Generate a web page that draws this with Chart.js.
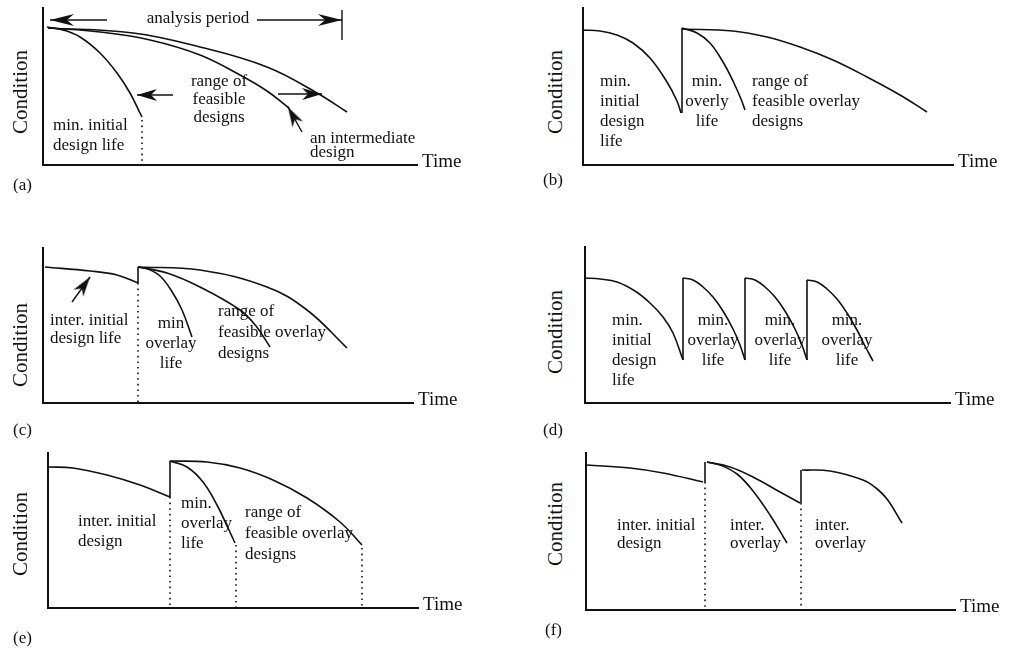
<!DOCTYPE html>
<html>
<head>
<meta charset="utf-8">
<script src="https://cdn.jsdelivr.net/npm/chart.js@4.4.1/dist/chart.umd.min.js"></script>
<style>
  html, body { margin: 0; padding: 0; background: #fff; }
  #fig { position: relative; width: 1009px; height: 653px; overflow: hidden;
         font-family: "Liberation Serif", "DejaVu Serif", serif; color: #111; }
  #fig canvas { position: absolute; }
  .t { position: absolute; white-space: pre; font-size: 17px; }
  .t.c { text-align: center; transform: translateX(-50%); }
  .cond { position: absolute; font-size: 21px; white-space: nowrap; line-height: 1;
          transform: translate(-50%, -50%) rotate(-90deg); }
  .time { font-size: 19px; }
</style>
</head>
<body>
<div id="fig"></div>
<script>
// === Valores: [tempo, condição] em unidades de cada painel ===
// (a)
const a_minInicial = [[4,138],[20,135],[37,128],[57,112],[74,92],[87,72],[97,52],[99,48]];
const a_intermed   = [[5,137],[57,133],[107,125],[157,110],[197,90],[224,74],[246,57]];
const a_maximo     = [[5,137],[90,132],[157,118],[224,98],[274,72],[304,53]];
const a_periodo    = [[64,145],[7,145],[214,145],[299,145]];
const a_faixa      = [[130,70],[94,70],[235,71],[279,71]];
const a_setaInter  = [[259,33],[245,58]];
// (b)
const b_minInicial = [[0,135],[17,134],[34,130],[50,122],[67,107],[84,83],[94,64],[98,52]];
const b_minOverlay = [[99,137],[114,132],[127,122],[140,103],[150,84],[158,66],[162,55]];
const b_faixa      = [[99,136],[150,134],[184,128],[217,118],[250,105],[284,88],[317,70],[344,53]];
// (c)
const c_inicial    = [[2,136],[47,132],[74,128],[95,120]];
const c_minOverlay = [[95,136],[105,134],[117,127],[128,113],[139,93],[149,66]];
const c_medio      = [[95,136],[124,130],[157,116],[197,93],[213,77],[227,56]];
const c_maximo     = [[95,136],[157,133],[224,116],[264,93],[304,55]];
const c_seta       = [[29,101],[47,126]];
// (d)
const d_inicial    = [[0,125],[15,124],[32,121],[50,112],[65,100],[78,86],[88,70],[98,43]];
const d_overlay1   = [[98,125],[108,123],[118,116],[128,106],[138,92],[148,74],[155,58],[160,43]];
const d_overlay2   = [[160,125],[170,123],[180,116],[190,106],[200,92],[210,74],[217,58],[222,43]];
const d_overlay3   = [[222,123],[232,121],[242,114],[252,104],[262,90],[272,73],[280,57],[288,42]];
// (e)
const e_inicial    = [[0,141],[25,140],[59,133],[92,123],[122,111]];
const e_minOverlay = [[122,147],[139,141],[155,126],[169,103],[180,80],[187,65]];
const e_faixa      = [[122,147],[159,146],[192,140],[225,128],[259,110],[292,86],[314,63]];
// (f)
const f_inicial    = [[1,145],[44,142],[77,137],[117,128]];
const f_overlay1   = [[121,148],[134,145],[151,136],[167,119],[184,95],[201,67]];
const f_overlay2   = [[121,148],[144,143],[167,133],[194,118],[214,107]];
const f_overlay3   = [[216,140],[244,139],[277,130],[290,122],[301,111],[316,87]];

const fig = document.getElementById("fig");
const COR = "#111";

// ponta de seta (desenhada apontando para a direita, ponta no centro do canvas)
function ponta(len, larg) {
  const c = document.createElement("canvas");
  c.width = len * 2; c.height = larg;
  const g = c.getContext("2d");
  g.fillStyle = COR;
  g.beginPath();
  g.moveTo(len, larg / 2);
  g.lineTo(0, 0);
  g.lineTo(len * 0.3, larg / 2);
  g.lineTo(0, larg);
  g.closePath();
  g.fill();
  return c;
}
const pontaGrande = ponta(24, 12);
const pontaMedia = ponta(20, 12);

const xy = pts => pts.map(p => ({ x: p[0], y: p[1] }));

function curva(pts) {
  return { data: xy(pts), borderColor: COR, borderWidth: 1.6, pointRadius: 0,
           tension: 0.4, clip: false };
}
function reta(pts, w) {
  return { data: xy(pts), borderColor: COR, borderWidth: w || 1.6, pointRadius: 0, tension: 0, clip: false };
}
function pontilhado(x, topo) {
  return { data: xy([[x, topo], [x, 0]]), borderColor: COR, borderWidth: 1.6, borderDash: [1.6, 4],
           pointRadius: 0, tension: 0, clip: false };
}
function seta(cauda, bico, cabeca) {
  // escalas 1:1 em pixels, então o ângulo sai direto dos dados
  const ang = Math.atan2(-(bico[1] - cauda[1]), bico[0] - cauda[0]) * 180 / Math.PI;
  return { data: xy([cauda, bico]), borderColor: COR, borderWidth: 1.4, tension: 0, clip: false,
           pointRadius: [0, 6], pointStyle: cabeca, pointRotation: ang };
}

function criaPainel(geo, series) {
  const w = geo.rx - geo.ox, h = geo.oy - geo.ty, pad = 12;
  const cv = document.createElement("canvas");
  cv.width = w + 2 * pad; cv.height = h + 2 * pad;
  cv.style.left = (geo.ox - pad) + "px";
  cv.style.top = (geo.ty - pad) + "px";
  cv.style.width = cv.width + "px";
  cv.style.height = cv.height + "px";
  fig.appendChild(cv);
  const eixo = max => ({
    type: "linear", min: 0, max: max,
    ticks: { display: false },
    grid: { display: false, drawTicks: false },
    border: { display: true, color: COR, width: 2 }
  });
  new Chart(cv.getContext("2d"), {
    type: "line",
    data: { datasets: series },
    options: {
      responsive: false, animation: false, events: [],
      layout: { padding: pad },
      plugins: { legend: { display: false }, tooltip: { enabled: false } },
      scales: { x: eixo(w), y: eixo(h) }
    }
  });
  // rótulos dos eixos e letra do painel
  const cond = document.createElement("div");
  cond.className = "cond";
  cond.textContent = "Condition";
  cond.style.left = geo.condX + "px";
  cond.style.top = geo.condY + "px";
  fig.appendChild(cond);
  texto("Time", geo.rx + 5, geo.oy - 2, 20, false, "time");
  texto(geo.letra, geo.letraX, geo.letraY, 20, false);
}

function texto(str, x, y, lh, centro, extra) {
  const d = document.createElement("div");
  d.className = "t" + (centro ? " c" : "") + (extra ? " " + extra : "");
  d.textContent = str;
  d.style.left = x + "px";
  d.style.top = (y - lh / 2 - 2) + "px";
  d.style.lineHeight = lh + "px";
  fig.appendChild(d);
}

// === (a) ===
criaPainel({ ox: 43, oy: 165, rx: 417, ty: 8, condX: 20, condY: 92, letra: "(a)", letraX: 13, letraY: 187 }, [
  curva(a_minInicial), curva(a_intermed), curva(a_maximo),
  pontilhado(99, 45),
  seta(a_periodo[0], a_periodo[1], pontaGrande),
  seta(a_periodo[2], a_periodo[3], pontaGrande),
  reta([[299, 125], [299, 155]], 1.4),
  seta(a_faixa[0], a_faixa[1], pontaMedia),
  seta(a_faixa[2], a_faixa[3], pontaMedia),
  seta(a_setaInter[0], a_setaInter[1], pontaMedia)
]);
texto("analysis period", 198, 20, 20, true);
texto("range of\nfeasible\ndesigns", 219, 83, 18, true);
texto("min. initial\ndesign life", 53, 127, 20, false);
texto("an intermediate\ndesign", 310, 140, 14, false);

// === (b) ===
criaPainel({ ox: 583, oy: 165, rx: 953, ty: 8, condX: 555, condY: 92, letra: "(b)", letraX: 543, letraY: 182 }, [
  curva(b_minInicial), reta([[99, 52], [99, 137]]),
  curva(b_minOverlay), curva(b_faixa)
]);
texto("min.\ninitial\ndesign\nlife", 600, 83, 20, false);
texto("min.\noverly\nlife", 707, 83, 20, true);
texto("range of\nfeasible overlay\ndesigns", 752, 83, 20, false);

// === (c) ===
criaPainel({ ox: 43, oy: 403, rx: 413, ty: 248, condX: 20, condY: 345, letra: "(c)", letraX: 13, letraY: 432 }, [
  curva(c_inicial), reta([[95, 120], [95, 136]]),
  curva(c_minOverlay), curva(c_medio), curva(c_maximo),
  pontilhado(95, 120),
  seta(c_seta[0], c_seta[1], pontaMedia)
]);
texto("inter. initial\ndesign life", 50, 322, 18, false);
texto("min\noverlay\nlife", 171, 325, 20, true);
texto("range of\nfeasible overlay\ndesigns", 218, 312, 21, false);

// === (d) ===
criaPainel({ ox: 585, oy: 403, rx: 950, ty: 247, condX: 555, condY: 332, letra: "(d)", letraX: 543, letraY: 432 }, [
  curva(d_inicial), reta([[98, 43], [98, 125]]),
  curva(d_overlay1), reta([[160, 43], [160, 125]]),
  curva(d_overlay2), reta([[222, 43], [222, 123]]),
  curva(d_overlay3)
]);
texto("min.\ninitial\ndesign\nlife", 612, 322, 20, false);
texto("min.\noverlay\nlife", 713, 322, 20, true);
texto("min.\noverlay\nlife", 780, 322, 20, true);
texto("min.\noverlay\nlife", 847, 322, 20, true);

// === (e) ===
criaPainel({ ox: 48, oy: 608, rx: 418, ty: 453, condX: 20, condY: 534, letra: "(e)", letraX: 13, letraY: 640 }, [
  curva(e_inicial), reta([[122, 111], [122, 147]]),
  curva(e_minOverlay), curva(e_faixa),
  pontilhado(122, 111), pontilhado(188, 63), pontilhado(314, 60)
]);
texto("inter. initial\ndesign", 78, 523, 20, false);
texto("min.\noverlay\nlife", 181, 505, 20, false);
texto("range of\nfeasible overlay\ndesigns", 245, 513, 21, false);

// === (f) ===
criaPainel({ ox: 586, oy: 610, rx: 955, ty: 453, condX: 555, condY: 524, letra: "(f)", letraX: 545, letraY: 632 }, [
  curva(f_inicial), reta([[119, 128], [119, 148]]),
  curva(f_overlay1), curva(f_overlay2), reta([[215, 107], [215, 140]]),
  curva(f_overlay3),
  pontilhado(119, 128), pontilhado(215, 107)
]);
texto("inter. initial\ndesign", 617, 527, 18, false);
texto("inter.\noverlay", 730, 527, 18, false);
texto("inter.\noverlay", 815, 527, 18, false);
</script>
</body>
</html>
